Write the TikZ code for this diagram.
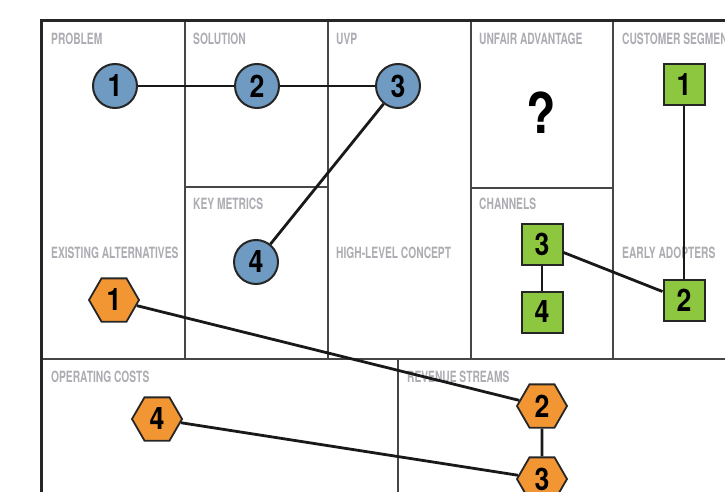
\documentclass[tikz,border=0pt]{standalone}
\usepackage{fontspec}
\usetikzlibrary{shapes.geometric,positioning}
\newfontfamily\boxfont[FakeStretch=0.66]{TeX Gyre Heros}
\newfontfamily\numfont[FakeStretch=0.86]{TeX Gyre Heros}
\definecolor{stepblue}{RGB}{111,155,195}
\definecolor{stepgreen}{RGB}{141,198,63}
\definecolor{steporange}{RGB}{242,150,52}
\definecolor{labelgray}{RGB}{172,172,178}
\definecolor{gridgray}{RGB}{70,70,70}

\begin{document}
\begin{tikzpicture}[x=1pt, y=-1pt,
    boxlabel/.style={anchor=base west, inner sep=0pt, text=labelgray,
        font=\boxfont\bfseries\fontsize{15.5}{15.5}\selectfont},
    problem/.style={circle, draw=black!85, line width=2pt, fill=stepblue,
        minimum size=44pt, inner sep=0pt, font=\numfont\bfseries\fontsize{31}{31}\selectfont},
    customer/.style={rectangle, draw=black!85, line width=2pt, fill=stepgreen,
        minimum size=41pt, inner sep=0pt, font=\numfont\bfseries\fontsize{31}{31}\selectfont},
    cost/.style={regular polygon, regular polygon sides=6, draw=black!85, line width=1.8pt,
        fill=steporange, minimum size=50pt, inner sep=0pt, font=\numfont\bfseries\fontsize{31}{31}\selectfont},
    link/.style={draw=black!90, line width=2.8pt}]
    \useasboundingbox (0,0) rectangle (725,492);
    \clip (0,0) rectangle (725,492);

    % Canvas grid
    \draw[gridgray, line width=1.1pt] (185,21) -- (185,359)
        (328,21) -- (328,359) (471,21) -- (471,359) (613,21) -- (613,359)
        (185,187) -- (328,187) (471,188) -- (613,188)
        (41,359) -- (760,359) (398,359) -- (398,520);
    \draw[black!85, line width=3pt] (760,21) -- (41,21) -- (41,520);

    % Box titles
    \node[boxlabel] (lproblem) at (51,45) {PROBLEM};
    \node[boxlabel] (lsolution) at (193,45) {SOLUTION};
    \node[boxlabel] (luvp) at (336,45) {UVP};
    \node[boxlabel] (lunfair) at (479,45) {UNFAIR ADVANTAGE};
    \node[boxlabel] (lsegment) at (622,45) {CUSTOMER SEGMENTS};
    \node[boxlabel] (lmetrics) at (193,209) {KEY METRICS};
    \node[boxlabel] (lchannels) at (479,209) {CHANNELS};
    \node[boxlabel] (lexisting) at (51,258) {EXISTING ALTERNATIVES};
    \node[boxlabel] (lconcept) at (336,258) {HIGH-LEVEL CONCEPT};
    \node[boxlabel] (ladopters) at (622,258) {EARLY ADOPTERS};
    \node[boxlabel] (lcosts) at (51,382) {OPERATING COSTS};
    \node[boxlabel] (lrevenue) at (407,382) {REVENUE STREAMS};

    \node (unknown) at (541,113) {\numfont\bfseries\fontsize{56}{56}\selectfont ?};

    % Problem side
    \node (P1) [problem] at (115,86) {1};
    \node (P2) [problem] at (257,86) {2};
    \node (P3) [problem] at (398,86) {3};
    \node (P4) [problem] at (256,262) {4};

    % Customer side
    \node (C1) [customer] at (684,85) {1};
    \node (C2) [customer] at (684,300) {2};
    \node (C3) [customer] at (542,244) {3};
    \node (C4) [customer] at (542,312) {4};

    % Money
    \node (M1) [cost] at (114,300) {1};
    \node (M2) [cost] at (542,406) {2};
    \node (M3) [cost] at (542,479) {3};
    \node (M4) [cost] at (157,419) {4};

    % Create edge connections
    \draw[link] (P1) -- (P2);
    \draw[link] (P2) -- (P3);
    \draw[link] (P3) -- (P4);

    \draw[link] (C1) -- (C2);
    \draw[link] (C3) -- (C2);
    \draw[link] (C3) -- (C4);

    \draw[link] (M1) -- (M2);
    \draw[link] (M2) -- (M3);
    \draw[link] (M4) -- (M3);
\end{tikzpicture}
\end{document}
